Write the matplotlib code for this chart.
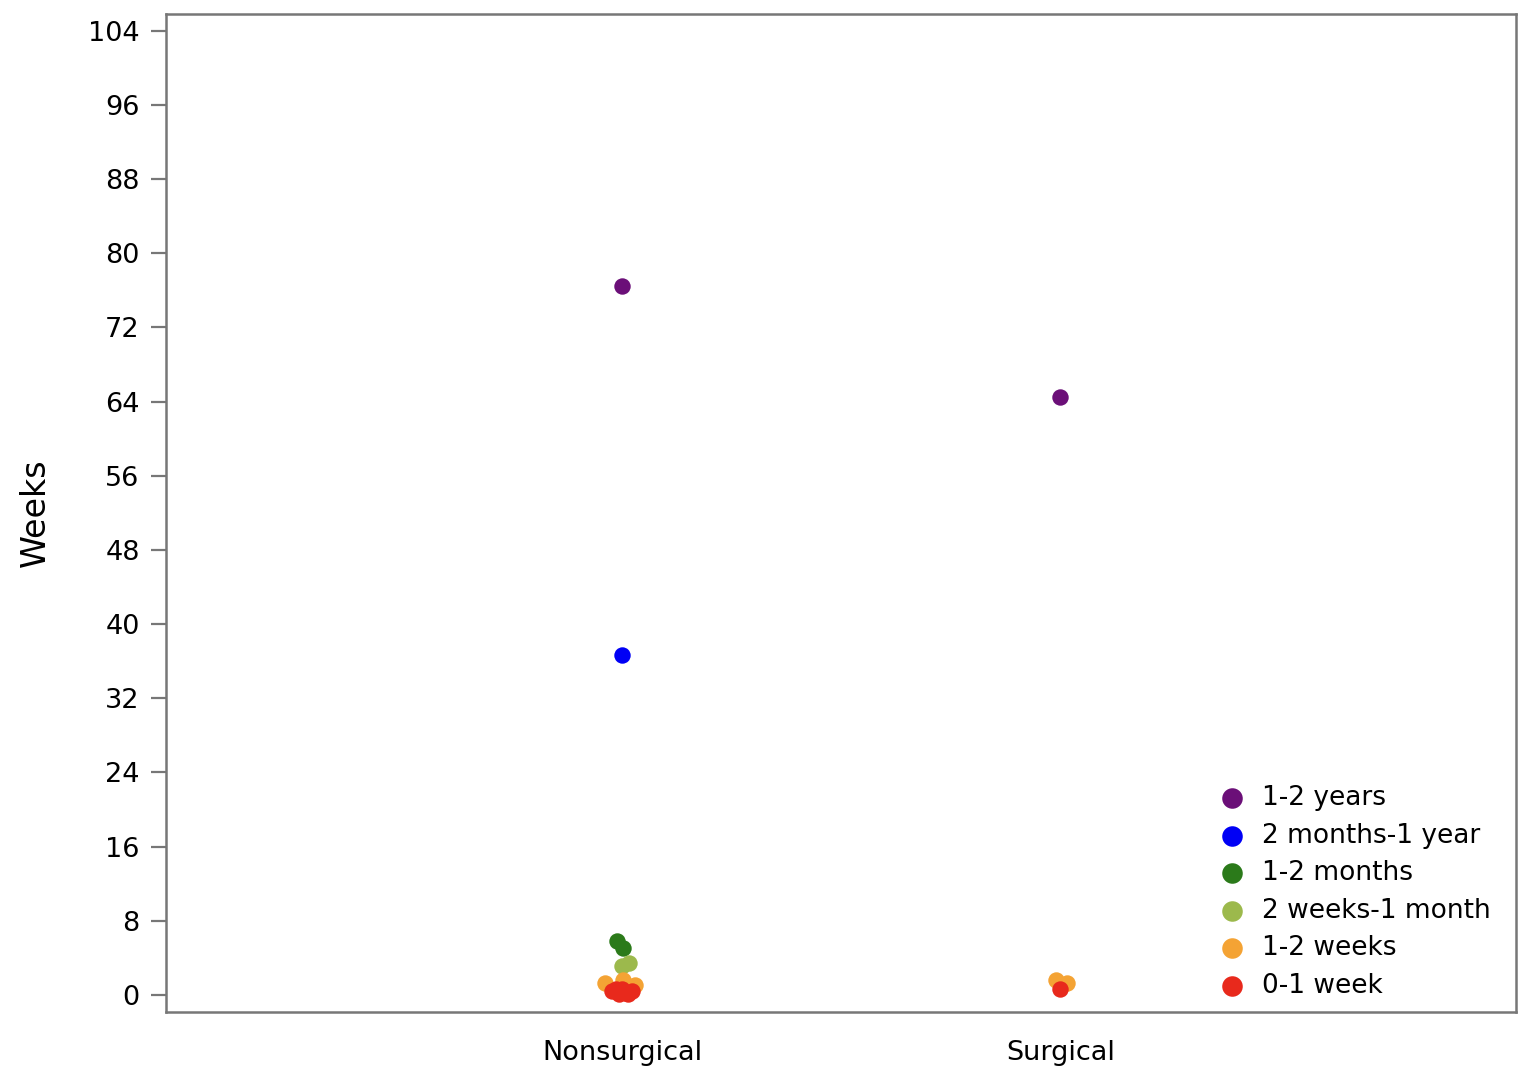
import matplotlib
matplotlib.use('Agg')
import matplotlib.pyplot as plt

groups = ['Nonsurgical', 'Surgical']
categories = ['1-2 years', '2 months-1 year', '1-2 months', '2 weeks-1 month', '1-2 weeks', '0-1 week']
colors = ['#6b0f78', '#0000f5', '#2b7a1a', '#9cb94c', '#f4a334', '#e8291c']

# (group index, jitter offset, weeks) per category
years_pts = [(0, 0.0, 76.5), (1, 0.0, 64.5)]
months_year_pts = [(0, 0.0, 36.7)]
months_pts = [(0, -0.011, 5.8), (0, 0.002, 5.1)]
weeks_month_pts = [(0, -0.001, 3.1), (0, 0.015, 3.45)]
weeks_pts = [(0, -0.039, 1.3), (0, 0.002, 1.6), (0, 0.029, 1.1),
             (1, -0.011, 1.6), (1, 0.014, 1.3)]
week_pts = [(0, -0.024, 0.4), (0, -0.008, 0.05), (0, 0.008, 0.15), (0, 0.022, 0.45),
            (0, 0.0, 0.65), (0, -0.014, 0.6), (0, 0.013, 0.1), (1, 0.0, 0.6)]
all_pts = [years_pts, months_year_pts, months_pts, weeks_month_pts, weeks_pts, week_pts]

plt.rcParams['font.family'] = ['DejaVu Sans']
fig = plt.figure(figsize=(15.24, 10.88), dpi=100)
ax = fig.add_axes([0.109, 0.070, 0.886, 0.917])

for cat, col, pts in zip(categories, colors, all_pts):
    xs = [g + j for g, j, _ in pts]
    ys = [w for _, _, w in pts]
    ax.scatter(xs, ys, s=140, color=col, label=cat, linewidths=0, zorder=3)

ax.set_xlim(-1.04, 2.04)
ax.set_ylim(-1.83, 105.8)
ax.set_yticks(range(0, 105, 8))
ax.set_xticks([0, 1])
ax.set_xticklabels(groups)
ax.set_ylabel('Weeks', fontsize=24, labelpad=26)

for sp in ax.spines.values():
    sp.set_color('#777777')
    sp.set_linewidth(1.8)
ax.tick_params(axis='y', colors='#777777', labelcolor='black', length=11, width=1.6, labelsize=19.5, pad=8)
ax.tick_params(axis='x', length=0, labelsize=19.5, pad=20)

leg = ax.legend(loc='lower right', frameon=False, fontsize=19, handletextpad=0.15,
                labelspacing=0.44, bbox_to_anchor=(0.993, -0.003), borderaxespad=0.2,
                markerscale=1.25)

fig.savefig('out.png', dpi=100)
